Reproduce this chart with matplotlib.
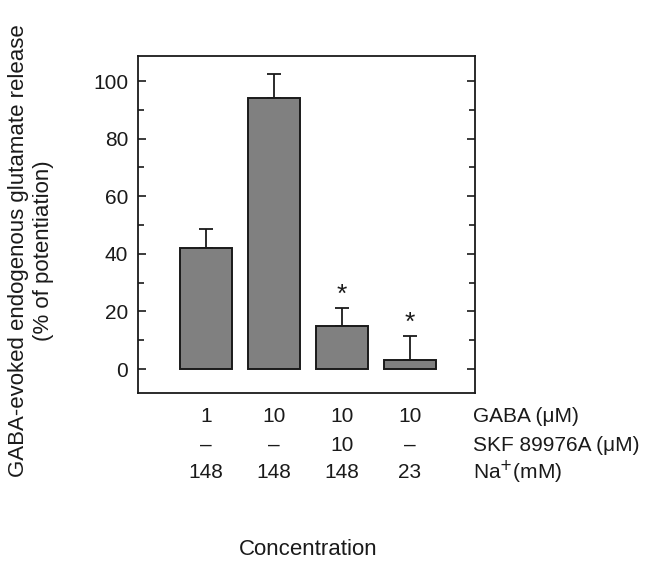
import matplotlib
matplotlib.use("Agg")
import matplotlib.pyplot as plt
from matplotlib.ticker import MultipleLocator

plt.rcParams['font.family'] = ['Liberation Sans', 'DejaVu Sans']

conditions = ["1", "2", "3", "4"]
values = [42, 94, 15, 3]
errors = [6.5, 8.5, 6.3, 8.5]
significant = [False, False, True, True]
gaba_row = ["1", "10", "10", "10"]
skf_row = ["\u2013", "\u2013", "10", "\u2013"]
na_row = ["148", "148", "148", "23"]
row_labels = ["GABA (\u03bcM)", "SKF 89976A (\u03bcM)", "Na$^{+}$(mM)"]

fig = plt.figure(figsize=(6.52, 5.65), dpi=100)
ax = fig.add_axes([0.2117, 0.3044, 0.5168, 0.5965])

x = [1, 2, 3, 4]
ax.bar(x, values, width=0.77, color="#808080", edgecolor="#1a1a1a", linewidth=1.4, zorder=2)
ax.errorbar(x, values, yerr=[[0]*4, errors], fmt="none", ecolor="#1a1a1a",
            elinewidth=1.3, capsize=5, capthick=1.3, zorder=1)
for xi, v, e, s in zip(x, values, errors, significant):
    if s:
        ax.text(xi, v + e + 4.5, "*", ha="center", va="center", fontsize=19, color="#1a1a1a")

ax.set_xlim(0.0, 4.96)
ax.set_ylim(-8.3, 108.7)
ax.set_xticks([])
ax.yaxis.set_major_locator(MultipleLocator(20))
ax.yaxis.set_minor_locator(MultipleLocator(10))
ax.set_yticks([0, 20, 40, 60, 80, 100])
ax.tick_params(axis="y", which="both", direction="in", right=True, labelsize=15,
               colors="#1a1a1a", pad=7)
ax.tick_params(axis="y", which="major", length=6, width=1.2)
ax.tick_params(axis="y", which="minor", length=4, width=1.2)
for sp in ax.spines.values():
    sp.set_linewidth(1.3)
    sp.set_color("#1a1a1a")

# table of conditions under the axes
row_y = [0.262, 0.212, 0.164]
rows = [gaba_row, skf_row, na_row]
for ry, row, lab in zip(row_y, rows, row_labels):
    for xi, t in zip(x, row):
        xf = ax.transData.transform((xi, 0))[0] / fig.bbox.width
        fig.text(xf, ry, t, ha="center", va="center", fontsize=15, color="#1a1a1a")
    fig.text(0.725, ry, lab, ha="left", va="center", fontsize=15, color="#1a1a1a")

fig.text(0.472, 0.027, "Concentration", ha="center", va="center", fontsize=16, color="#1a1a1a")
fig.text(0.028, 0.556, "GABA-evoked endogenous glutamate release", rotation=90,
         ha="center", va="center", fontsize=16, color="#1a1a1a")
fig.text(0.067, 0.556, "(% of potentiation)", rotation=90,
         ha="center", va="center", fontsize=16, color="#1a1a1a")

fig.savefig("out.png", dpi=100)
